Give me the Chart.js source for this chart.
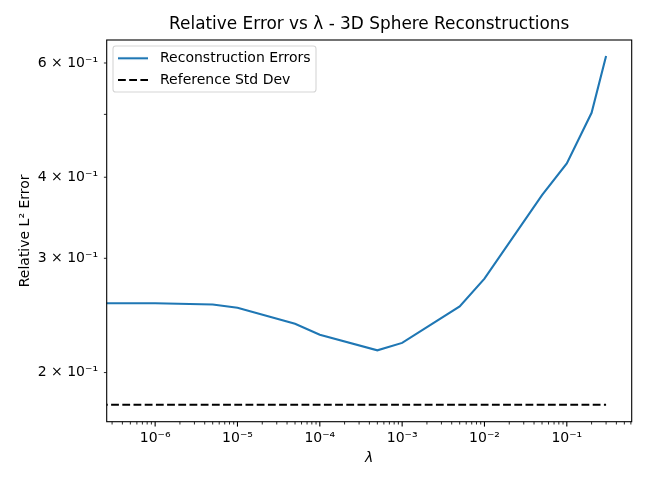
<!DOCTYPE html>
<html><head><meta charset="utf-8">
<script src="https://cdn.jsdelivr.net/npm/chart.js@4/dist/chart.umd.min.js"></script>
<style>html,body{margin:0;padding:0;background:#fff}</style>
</head><body>
<canvas id="c" width="648" height="486" style="width:648px;height:486px;display:block"></canvas>
<script>
// ---- data ----
const lambdas = [1e-7, 1e-6, 5e-6, 1e-5, 5e-5, 1e-4, 5e-4, 1e-3, 5e-3, 1e-2, 5e-2, 1e-1, 2e-1, 3e-1];
const errors  = [0.2558, 0.2558, 0.2546, 0.2518, 0.2378, 0.2287, 0.2164, 0.2222, 0.2530, 0.2791, 0.3753, 0.4201, 0.5028, 0.615];
const refStd = 0.1784;
const seriesNames = ['Reconstruction Errors', 'Reference Std Dev'];

// ---- axes ----
const xRange = [2.58e-7, 0.614];
const yRange = [0.168, 0.651];
const xMajorTicks = [1e-6, 1e-5, 1e-4, 1e-3, 1e-2, 1e-1];
const xMajorLabels = ['10\u207B\u2076', '10\u207B\u2075', '10\u207B\u2074', '10\u207B\u00B3', '10\u207B\u00B2', '10\u207B\u00B9'];
const xDecades = [1e-7, 1e-6, 1e-5, 1e-4, 1e-3, 1e-2, 1e-1];
const minorMults = [2, 3, 4, 5, 6, 7, 8, 9];
const yTicks = [0.2, 0.3, 0.4, 0.5, 0.6];
const yTickLabels = ['2 \u00D7 10\u207B\u00B9', '3 \u00D7 10\u207B\u00B9', '4 \u00D7 10\u207B\u00B9', '', '6 \u00D7 10\u207B\u00B9'];

const xMinorTicks = [];
xDecades.forEach(d => minorMults.forEach(m => { const v = +(m * d).toPrecision(3); if (v >= xRange[0] && v <= xRange[1]) xMinorTicks.push(v); }));
const xAllTicks = xMajorTicks.concat(xMinorTicks).sort((a, b) => a - b);

const FONT = 'DejaVu Sans';
const BLUE = '#1f77b4';

function swatch(color, dash) {
  const c = document.createElement('canvas');
  c.width = 35; c.height = 10;
  const g = c.getContext('2d');
  g.strokeStyle = color; g.lineWidth = 2.1; g.setLineDash(dash);
  g.beginPath(); g.moveTo(0, 5); g.lineTo(30, 5); g.stroke();
  return c;
}

const framePlugin = {
  id: 'frame',
  afterLayout(chart) {
    const a = chart.chartArea, lg = chart.legend;
    const w = lg.width, h = lg.height;
    lg.left = a.left + 3.6; lg.top = a.top + 3.6;
    lg.right = lg.left + w; lg.bottom = lg.top + h;
  },
  beforeDraw(chart) {
    const a = chart.chartArea, ctx = chart.ctx;
    const x = a.left + 6.3, y = a.top + 6, w = 203, h = 46, r = 2.8;
    ctx.save();
    ctx.beginPath();
    ctx.moveTo(x + r, y); ctx.lineTo(x + w - r, y); ctx.arcTo(x + w, y, x + w, y + r, r);
    ctx.lineTo(x + w, y + h - r); ctx.arcTo(x + w, y + h, x + w - r, y + h, r);
    ctx.lineTo(x + r, y + h); ctx.arcTo(x, y + h, x, y + h - r, r);
    ctx.lineTo(x, y + r); ctx.arcTo(x, y, x + r, y, r);
    ctx.closePath();
    ctx.fillStyle = 'rgba(255,255,255,0.8)'; ctx.fill();
    ctx.strokeStyle = '#d6d6d6'; ctx.lineWidth = 1.1; ctx.stroke();
    ctx.restore();
  },
  afterDraw(chart) {
    const a = chart.chartArea, ctx = chart.ctx;
    const xs = chart.scales.x, ys = chart.scales.y;
    ctx.save();
    ctx.strokeStyle = '#000';
    xs.ticks.forEach(t => {
      const major = xMajorTicks.includes(t.value);
      const px = xs.getPixelForValue(t.value);
      ctx.lineWidth = major ? 1.1 : 0.85;
      ctx.beginPath(); ctx.moveTo(px, a.bottom); ctx.lineTo(px, a.bottom + (major ? 4.9 : 2.8)); ctx.stroke();
    });
    ys.ticks.forEach(t => {
      const py = ys.getPixelForValue(t.value);
      ctx.lineWidth = 0.85;
      ctx.beginPath(); ctx.moveTo(a.left, py); ctx.lineTo(a.left - 2.8, py); ctx.stroke();
    });
    ctx.lineWidth = 1.1;
    ctx.strokeRect(a.left, a.top, a.right - a.left, a.bottom - a.top);
    ctx.restore();
  }
};

new Chart(document.getElementById('c'), {
  type: 'line',
  data: {
    datasets: [
      { label: seriesNames[0], data: lambdas.map((l, i) => ({ x: l, y: errors[i] })),
        borderColor: BLUE, borderWidth: 2.1, pointRadius: 0, fill: false, tension: 0,
        pointStyle: swatch(BLUE, []) },
      { label: seriesNames[1], data: lambdas.map(l => ({ x: l, y: refStd })),
        borderColor: '#000', borderWidth: 2.1, borderDash: [7.8, 3.4], borderDashOffset: 6.5,
        pointRadius: 0, fill: false, tension: 0, pointStyle: swatch('#000', [7.8, 3.4]) }
    ]
  },
  options: {
    responsive: false, animation: false, devicePixelRatio: 1,
    layout: { padding: { left: 0, right: 16.3, top: 0, bottom: 0 } },
    plugins: {
      title: { display: true, fullSize: false, text: 'Relative Error vs \u03BB - 3D Sphere Reconstructions', color: '#000',
        font: { family: FONT, size: 16.9, weight: 'normal', lineHeight: 1.2 }, padding: { top: 14, bottom: 5.72 } },
      legend: { position: 'chartArea', align: 'start',
        labels: { usePointStyle: true, pointStyleWidth: 35, color: '#000', padding: 7.7,
          font: { family: FONT, size: 14 } } },
      tooltip: { enabled: false }
    },
    scales: {
      x: { type: 'logarithmic', min: xRange[0], max: xRange[1],
        afterBuildTicks(s) { s.ticks = xAllTicks.map(v => ({ value: v })); },
        afterFit(s) { s.height = 64.3; },
        ticks: { autoSkip: false, maxRotation: 0, minRotation: 0, padding: 8, color: '#000',
          font: { family: FONT, size: 14 },
          callback(v) { const i = xMajorTicks.indexOf(v); return i >= 0 ? xMajorLabels[i] : ''; } },
        grid: { display: false, drawTicks: false }, border: { display: false },
        title: { display: true, text: '\u03BB', color: '#000', font: { family: FONT, size: 14, style: 'italic' },
          padding: { top: 19.2, bottom: 19.2 } } },
      y: { type: 'logarithmic', min: yRange[0], max: yRange[1],
        afterBuildTicks(s) { s.ticks = yTicks.map(v => ({ value: v })); },
        afterFit(s) { s.width = 106.7; },
        ticks: { autoSkip: false, padding: 8.7, color: '#000', font: { family: FONT, size: 14 },
          callback(v) { const i = yTicks.indexOf(v); return i >= 0 ? yTickLabels[i] : ''; } },
        grid: { display: false, drawTicks: false }, border: { display: false },
        title: { display: true, text: 'Relative L\u00B2 Error', color: '#000', font: { family: FONT, size: 14 },
          padding: { top: 16.7, bottom: 16.7 } } }
    }
  },
  plugins: [framePlugin]
});
</script>
</body></html>
